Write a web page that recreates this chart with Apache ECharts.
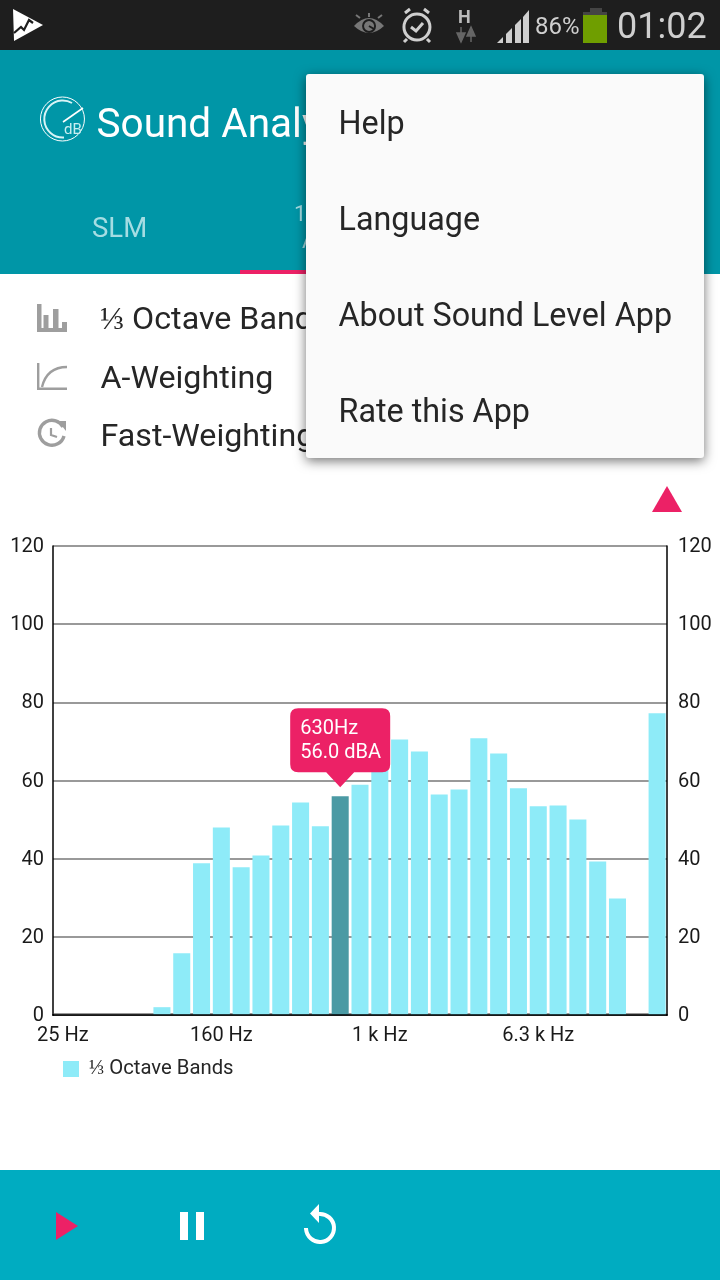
<!DOCTYPE html>
<html><head><meta charset="utf-8">
<style>html,body{margin:0;padding:0;background:#fff}#c{width:720px;height:1280px}</style>
<script src="https://cdn.jsdelivr.net/npm/echarts@6/dist/echarts.min.js"></script>
</head><body><div id="c"></div>
<script>
const categories = ['25 Hz','31.5 Hz','40 Hz','50 Hz','63 Hz','80 Hz','100 Hz','125 Hz','160 Hz','200 Hz','250 Hz','315 Hz','400 Hz','500 Hz','630 Hz','800 Hz','1 k Hz','1.25 k Hz','1.6 k Hz','2 k Hz','2.5 k Hz','3.15 k Hz','4 k Hz','5 k Hz','6.3 k Hz','8 k Hz','10 k Hz','12.5 k Hz','16 k Hz','20 k Hz','25 k Hz'];
const bandValues = [0,0,0,0,0,2,15.8,38.8,48,37.8,40.8,48.5,54.4,48.3,56,58.9,64,70.5,67.4,56.4,57.7,70.8,66.9,58,53.4,53.6,50,39.3,29.8,0,77.2];
const selectedBand = 14;
const seriesName = '⅓ Octave Bands';
const menuItems = ['Help','Language','About Sound Level App','Rate this App'];
const FONT='Roboto';
const T=(x,y,text,size,fill,extra)=>({type:'text',z:2,x,y:y+size*0.1,style:Object.assign({text,fontFamily:FONT,fontSize:size,fill,textVerticalAlign:'middle',textBaseline:'middle'},extra||{})});
const R=(x,y,w,h,fill,z,r)=>({type:'rect',z:z||1,shape:{x,y,width:w,height:h,r:r||0},style:{fill}});
let pathCount=0;
const P=(d,fill,stroke,lw,z)=>{const name='iconPath'+(pathCount++);echarts.graphic.registerShape(name,echarts.graphic.extendPath(d));return {type:name,z:z||2,style:{fill:fill||'none',stroke:stroke||'none',lineWidth:lw||1,lineCap:'butt',lineJoin:'miter'}};};
const G='#9e9e9e', W='#ffffff', SB='#1e1e1e', L='#cfcfcf';
const yLabelRich={t:{fontFamily:FONT,fontSize:20,color:'#1a1a1a',padding:[2,0,0,0]}};
const chrome=[
 R(0,0,720,50,SB), R(0,50,720,224,'#0096a7'), R(240,270,70,4,'#ec2166',2), R(0,1170,720,110,'#00acc1'),
 // zero gridline band, below the bars
 R(54,1013,612,2.5,'#999',1),
 // status bar
 P('M13 9L43 25L14 41Z',W),
 P('M14 33L21 27L24 30L29 20L33 23','none',SB,2.2),
 P('M354 26Q369 10 384 26Q369 40 354 26Z','#777'), P('M369 20A6 6 0 1 0 369.1 20Z','none',SB,2), P('M369 26L374 29','none',SB,2),
 P('M356 15L360 18M369 13V17M382 15L378 18','none','#777',2),
 P('M417 14A13 13 0 1 1 416.9 14Z','none',L,3), P('M411 27L416 31L423 23','none',L,3), P('M405 13L410 9M429 13L424 9M407 39L404 42M427 39L430 42','none',L,3),
 {type:'text',z:2,x:458,y:9,style:{text:'H',fontFamily:FONT,fontSize:18,fontWeight:'bold',fill:'#bbb'}},
 P('M461 27V36M457 33L461 42L465 33Z','#666','#666',1.5), P('M471 42V33M467 36L471 27L475 36Z','#666','#666',1.5),
 P('M497 43L503 37V43Z',L), P('M506 43V34L512 28V43Z',L), P('M515 43V25L521 19V43Z',L), P('M523 43V17L529 10V43Z',L),
 T(535,26,'86%',24,L),
 R(590,8,12,6,'#444'), R(583,12,24,3,'#444'), R(583,15,24,28,'#6f9e00'),
 T(617,25,'01:02',36,L),
 // app bar
 P('M62.5 97A22 22 0 1 1 62.4 97Z','none',W,1),
 P('M64 137.5A18.5 18.5 0 1 1 72 103','none','#d8f4f6',2),
 P('M63 122L83 108','none',W,1.6),
 T(64,129,'dB',15,'#c8eef1'),
 T(96.5,123,'Sound Analyzer',40.5,W),
 T(92,227,'SLM',27.5,'#a5dde3'),
 T(294,213,'1',22,'#a5dde3'), T(302,240,'A',22,'#a5dde3'),
 // rows
 R(37,304,4.5,28,G), R(43.5,315,5,17,G), R(53,309,5.5,23,G), R(62,322,5,10,G), R(37,328,30,4,G),
 P('M38.2 363V388.8H67','none',G,2.4), P('M42 387Q47 367 67 367','none',G,2.4),
 P('M63 427A12.5 12.5 0 1 0 64 436','none',G,3.4), P('M58 421L66 431L66 421Z',G), P('M51 428V435L57 437','none',G,2.2),
 T(100,318,'⅓ Octave Bands',32.2,'#262626'), T(100.5,377,'A-Weighting',32.2,'#262626'), T(100.5,435,'Fast-Weighting',32.2,'#262626'),
 // menu
 {type:'rect',z:10,shape:{x:306,y:74,width:398,height:384,r:3},style:{fill:'#fafafa',shadowBlur:12,shadowColor:'rgba(0,0,0,0.55)',shadowOffsetY:3}},
 ...menuItems.map((m,i)=>Object.assign(T(338.5,123+96*i,m,32.3,'#262626'),{z:11})),
 // triangle marker
 P('M667 486L682 512H652Z','#ec2166'),
 // controls
 P('M56 1212L78 1226L56 1240Z','#ec2166'), R(180,1212,8,28,W,2), R(196,1212,8,28,W,2),
 P('M319 1214A14 14 0 1 1 306 1228','none',W,4), P('M319 1204V1223L310 1213.5Z',W)
];
const option={
 animation:false,
 textStyle:{fontFamily:FONT},
 grid:{left:53,right:53,top:546,bottom:265,show:false},
 legend:{show:true,left:58,top:1054,itemWidth:16,itemHeight:16,itemGap:10,icon:'rect',textStyle:{fontFamily:FONT,fontSize:20.3,color:'#262626',padding:[0,0,0,5]},data:[seriesName]},
 xAxis:[
  {type:'category',position:'bottom',z:3,data:categories,offset:1,axisTick:{show:false},axisLine:{lineStyle:{color:'#000',width:1.5}},
   axisLabel:{interval:7,fontFamily:FONT,fontSize:20,color:'#1a1a1a',margin:10,hideOverlap:false}},
  {type:'category',position:'top',data:categories,axisTick:{show:false},axisLabel:{show:false},axisLine:{show:true,lineStyle:{color:'#000',width:1.5}}}
 ],
 yAxis:[
  {type:'value',position:'left',min:0,max:120,interval:20,axisLine:{show:true,lineStyle:{color:'#000',width:1.5}},axisTick:{show:false},splitLine:{show:true,lineStyle:{color:'#999',width:2}},axisLabel:{margin:9,formatter:'{t|{value}}',rich:yLabelRich}},
  {type:'value',position:'right',min:0,max:120,interval:20,axisLine:{show:true,lineStyle:{color:'#000',width:1.5}},axisTick:{show:false},splitLine:{show:false},axisLabel:{margin:11,formatter:'{t|{value}}',rich:yLabelRich}}
 ],
 series:[{name:seriesName,type:'bar',yAxisIndex:0,barCategoryGap:'14%',itemStyle:{color:'#8eebf8'},
   data:bandValues.map((v,i)=>i===selectedBand?{value:v,itemStyle:{color:'#4b9aa4'}}:v),
   markPoint:{silent:true,z:20,
     symbol:'path://M8 0H92Q100 0 100 8V56Q100 64 92 64H64L50 79L36 64H8Q0 64 0 56V8Q0 0 8 0Z',
     symbolKeepAspect:false,symbolSize:[100,79],symbolOffset:[0,-48.5],
     itemStyle:{color:'#ec2166'},
     label:{show:true,position:[10,9],align:'left',verticalAlign:'top',color:'#fff',fontFamily:FONT,fontSize:20,lineHeight:24,
       formatter:()=>categories[selectedBand].replace(' ','')+'\n'+bandValues[selectedBand].toFixed(1)+' dBA'},
     data:[{coord:[selectedBand,bandValues[selectedBand]]}]}
 }],
 graphic:{elements:chrome}
};
echarts.init(document.getElementById('c')).setOption(option);
</script></body></html>
